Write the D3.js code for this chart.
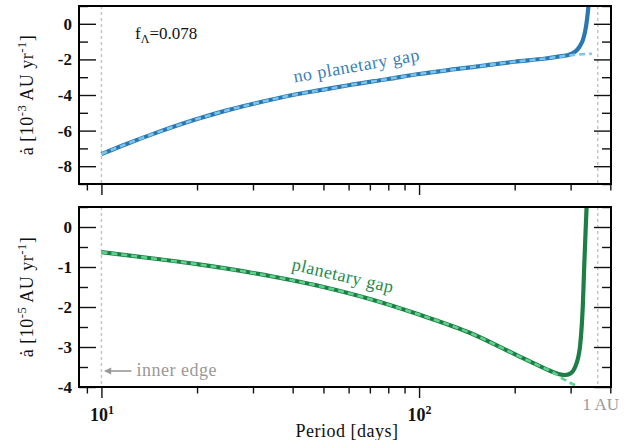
<!DOCTYPE html>
<html>
<head>
<meta charset="utf-8">
<script src="https://cdn.jsdelivr.net/npm/d3@7"></script>
<style>
  body { margin: 0; background: #fff; }
  text { font-family: "Liberation Serif", "DejaVu Serif", serif; }
</style>
</head>
<body>
<script>
// period axis
var periodMajorTicks = [10, 100];
var periodMinorTicks = [9, 20, 30, 40, 50, 60, 70, 80, 90, 200, 300, 400];
var innerEdgePeriod = 10;
var oneAuPeriod = 365.25;

// top panel: no planetary gap, 1e-3 AU/yr
var topTicksMajor = [0, -2, -4, -6, -8];
var topTicksMinor = [1, -1, -3, -5, -7, -9];
var topPeriods = [10, 12, 15, 20, 25, 30, 40, 50, 60, 80, 100, 130, 160, 200, 250, 280, 295, 305, 315, 322, 328, 333, 337, 342, 346];
var topRate    = [-7.32, -6.75, -6.1, -5.35, -4.85, -4.5, -4.0, -3.7, -3.45, -3.1, -2.82, -2.55, -2.35, -2.13, -1.95, -1.82, -1.75, -1.65, -1.45, -1.2, -0.9, -0.45, 0.1, 1.1, 2.0];
var topFitPeriods = [10, 12, 15, 20, 25, 30, 40, 50, 60, 80, 100, 130, 160, 200, 250, 280, 300, 320, 350];
var topFitRate    = [-7.32, -6.75, -6.1, -5.35, -4.85, -4.5, -4.0, -3.7, -3.45, -3.1, -2.82, -2.55, -2.35, -2.13, -1.95, -1.83, -1.77, -1.72, -1.68];

// bottom panel: planetary gap, 1e-5 AU/yr
var botTicksMajor = [0, -1, -2, -3, -4];
var botTicksMinor = [0.5, -0.5, -1.5, -2.5, -3.5];
var botPeriods = [10, 15, 20, 30, 50, 70, 100, 145, 200, 240, 265, 280, 288, 300, 310, 316, 321, 325, 328, 331, 334, 337, 340];
var botRate    = [-0.63, -0.8, -0.93, -1.15, -1.5, -1.8, -2.19, -2.65, -3.18, -3.48, -3.63, -3.69, -3.7, -3.66, -3.5, -3.3, -3.0, -2.5, -1.9, -1.0, -0.2, 0.55, 1.2];
var botFitPeriods = [10, 15, 20, 30, 50, 70, 100, 145, 200, 240, 265, 283, 300, 315, 330];
var botFitRate    = [-0.63, -0.8, -0.93, -1.15, -1.5, -1.8, -2.19, -2.65, -3.18, -3.48, -3.64, -3.79, -3.9, -3.99, -4.1];

var W = 629, H = 440;
var left = 79, right = 611;
var wide = 0.5; // letter-spacing, the original face runs wider than Times

var svg = d3.select("body").append("svg").attr("width", W).attr("height", H);

var x = d3.scaleLog().domain([8.5, 402]).range([left, right]);

function zip(a, b) {
    return a.map(function(d, i) { return [d, b[i]]; });
}

function drawPanel(id, y, top, bottom, major, minor, solid, fit, dark, light) {
    var g = svg.append("g");

    g.append("clipPath").attr("id", "clip" + id)
        .append("rect").attr("x", left).attr("y", top)
        .attr("width", right - left).attr("height", bottom - top);

    // grey markers for the inner edge and 1 AU
    [innerEdgePeriod, oneAuPeriod].forEach(function(p) {
        g.append("line")
            .attr("x1", x(p)).attr("x2", x(p))
            .attr("y1", top).attr("y2", bottom)
            .attr("stroke", "#c4c4c4").attr("stroke-width", 1.5)
            .attr("stroke-dasharray", "3,3");
    });

    var line = d3.line()
        .x(function(d) { return x(d[0]); })
        .y(function(d) { return y(d[1]); })
        .curve(d3.curveMonotoneX);

    var curves = g.append("g").attr("clip-path", "url(#clip" + id + ")");
    curves.append("path").attr("d", line(solid))
        .attr("fill", "none").attr("stroke", dark).attr("stroke-width", 4.2);
    curves.append("path").attr("d", line(fit))
        .attr("fill", "none").attr("stroke", light).attr("stroke-width", 2.6)
        .attr("stroke-dasharray", "6,4");

    // y axes, ticks pointing in on both sides
    var yl = g.append("g").attr("transform", "translate(" + left + ",0)")
        .call(d3.axisLeft(y).tickValues(major).tickSize(-17).tickPadding(7)
              .tickFormat(function(d) { return String(d).replace("\u2212", "-"); }));
    g.append("g").attr("transform", "translate(" + left + ",0)")
        .call(d3.axisLeft(y).tickValues(minor).tickSize(-9).tickFormat(""));
    g.append("g").attr("transform", "translate(" + right + ",0)")
        .call(d3.axisRight(y).tickValues(major).tickSize(-17).tickFormat(""));
    g.append("g").attr("transform", "translate(" + right + ",0)")
        .call(d3.axisRight(y).tickValues(minor).tickSize(-9).tickFormat(""));

    // x axis, ticks pointing out
    var xa = g.append("g").attr("transform", "translate(0," + bottom + ")")
        .call(d3.axisBottom(x).tickValues(periodMajorTicks).tickSize(11).tickPadding(10).tickFormat(""));
    g.append("g").attr("transform", "translate(0," + bottom + ")")
        .call(d3.axisBottom(x).tickValues(periodMinorTicks).tickSize(6.5).tickFormat(""));

    g.selectAll(".domain").remove();
    g.selectAll(".tick line").attr("stroke", "#111").attr("stroke-width", 1.4);
    yl.selectAll("text").attr("font-family", "Liberation Serif").attr("font-size", 17)
        .attr("font-weight", "bold").attr("fill", "#111");

    g.append("rect").attr("x", left).attr("y", top)
        .attr("width", right - left).attr("height", bottom - top)
        .attr("fill", "none").attr("stroke", "#000").attr("stroke-width", 2);

    return xa;
}

// top panel
var yTop = d3.scaleLinear().domain([-9, 1]).range([184, 6]);
drawPanel("a", yTop, 6, 184, topTicksMajor, topTicksMinor,
          zip(topPeriods, topRate), zip(topFitPeriods, topFitRate), "#2a78b2", "#7cc4ea");

// bottom panel
var yBot = d3.scaleLinear().domain([-4, 0.5]).range([387, 207]);
var xaBot = drawPanel("b", yBot, 207, 387, botTicksMajor, botTicksMinor,
          zip(botPeriods, botRate), zip(botFitPeriods, botFitRate), "#1d7f45", "#5fd38e");

// 10^n tick labels
xaBot.selectAll(".tick text").each(function(d) {
    var t = d3.select(this).attr("font-size", 18).attr("font-family", "Liberation Serif")
        .attr("font-weight", "bold").attr("fill", "#111");
    t.append("tspan").text("10");
    t.append("tspan").attr("font-size", 12).attr("dy", -7).text(Math.round(Math.log10(d)));
});

svg.append("text").attr("x", x(oneAuPeriod) + 3).attr("y", 410)
    .attr("text-anchor", "middle").attr("font-size", 17).attr("fill", "#999")
    .text("1 AU");

svg.append("text").attr("x", (left + right) / 2 + 2).attr("y", 437)
    .attr("text-anchor", "middle").attr("font-size", 18).attr("letter-spacing", wide)
    .attr("fill", "#111")
    .text("Period [days]");

// y labels
function yLabel(cy, exp) {
    var t = svg.append("text").attr("transform", "translate(33," + cy + ") rotate(-90)")
        .attr("text-anchor", "middle").attr("font-size", 18).attr("letter-spacing", wide)
        .attr("fill", "#111");
    t.append("tspan").text("\u0227 [10");
    t.append("tspan").attr("font-size", 12.5).attr("dy", -7).text(exp);
    t.append("tspan").attr("dy", 7).text(" AU yr");
    t.append("tspan").attr("font-size", 12.5).attr("dy", -7).text("-1");
    t.append("tspan").attr("dy", 7).text("]");
}
yLabel(95, "-3");
yLabel(297, "-5");

// f_Lambda
var f = svg.append("text").attr("x", 135).attr("y", 39).attr("font-size", 17).attr("fill", "#111");
f.append("tspan").text("f");
f.append("tspan").attr("font-size", 12).attr("dy", 4).text("\u039B");
f.append("tspan").attr("dy", -4).text("=0.078");

// curve labels
svg.append("text")
    .attr("transform", "translate(" + x(64) + "," + yTop(-2.68) + ") rotate(-10)")
    .attr("text-anchor", "middle").attr("font-size", 18).attr("letter-spacing", wide)
    .attr("fill", "#3a80b8")
    .text("no planetary gap");
svg.append("text")
    .attr("transform", "translate(" + x(57) + "," + yBot(-1.36) + ") rotate(13)")
    .attr("text-anchor", "middle").attr("font-size", 18).attr("letter-spacing", wide)
    .attr("fill", "#238b4e")
    .text("planetary gap");

// inner edge annotation
svg.append("defs").append("marker").attr("id", "arr")
    .attr("viewBox", "0 0 10 10").attr("refX", 8).attr("refY", 5)
    .attr("markerWidth", 5).attr("markerHeight", 4.5).attr("orient", "auto")
    .append("path").attr("d", "M0,0 L10,5 L0,10 Z").attr("fill", "#999");
svg.append("line").attr("x1", x(innerEdgePeriod) + 30).attr("x2", x(innerEdgePeriod) + 4)
    .attr("y1", yBot(-3.6)).attr("y2", yBot(-3.6))
    .attr("stroke", "#999").attr("stroke-width", 1.6).attr("marker-end", "url(#arr)");
svg.append("text").attr("x", x(innerEdgePeriod) + 35).attr("y", yBot(-3.6) + 5)
    .attr("font-size", 18).attr("letter-spacing", wide).attr("fill", "#999").text("inner edge");
</script>
</body>
</html>
